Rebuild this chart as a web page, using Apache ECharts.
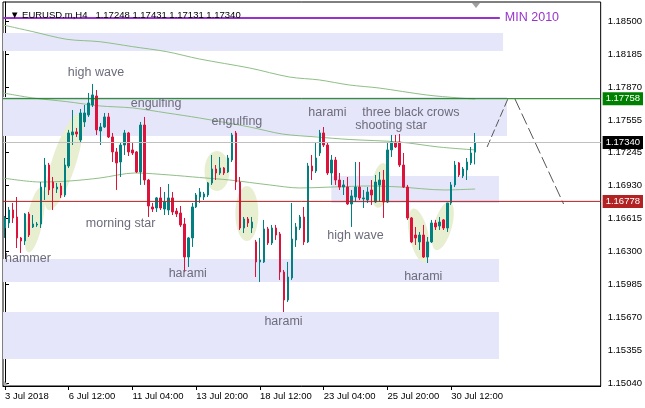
<!DOCTYPE html>
<html><head><meta charset="utf-8">
<script src="https://cdn.jsdelivr.net/npm/echarts@6/dist/echarts.min.js"></script>
<style>html,body{margin:0;padding:0;background:#fff}#c{width:645px;height:408px}</style>
</head><body><div id="c"></div>
<script>
const symbolName = 'EURUSD.m,H4';

const opens = [1.16524,1.16572,1.16696,1.16629,1.16429,1.16400,1.16658,1.16534,1.16553,1.16562,
1.16915,1.17125,1.16963,1.16896,1.16925,1.16839,1.17116,1.17412,1.17441,1.17364,
1.17536,1.17603,1.17698,1.17784,1.17450,1.17488,1.17584,1.17393,1.17250,1.17154,
1.17316,1.17431,1.17269,1.17250,1.17059,1.17507,1.16982,1.16725,1.16715,1.16811,
1.16705,1.16696,1.16811,1.16686,1.16667,1.16562,1.16247,1.16429,1.16725,1.16820,
1.16820,1.16839,1.16954,1.17087,1.17049,1.17097,1.17059,1.17173,1.17431,1.16963,
1.16524,1.16610,1.16524,1.16391,1.16200,1.16200,1.16515,1.16381,1.16524,1.16467,
1.16104,1.15837,1.16047,1.16410,1.16524,1.16629,1.16391,1.17116,1.17068,1.17240,
1.17431,1.17316,1.17049,1.17173,1.16982,1.16915,1.16915,1.16753,1.16820,1.16915,
1.16801,1.16791,1.16887,1.16772,1.16935,1.16982,1.16772,1.17269,1.17335,1.17345,
1.17125,1.16915,1.16620,1.16457,1.16391,1.16457,1.16247,1.16391,1.16572,1.16543,
1.16601,1.16524,1.16763,1.16935,1.17145,1.17021,1.17078,1.17145,1.17248];

const closes = [1.16620,1.16696,1.16620,1.16429,1.16400,1.16658,1.16457,1.16562,1.16562,1.16915,
1.17125,1.16887,1.16906,1.16915,1.16839,1.17125,1.17431,1.17441,1.17421,1.17622,
1.17622,1.17717,1.17794,1.17460,1.17488,1.17584,1.17393,1.17250,1.17145,1.17316,
1.17431,1.17250,1.17240,1.17059,1.17507,1.16982,1.16734,1.16705,1.16811,1.16715,
1.16772,1.16811,1.16677,1.16658,1.16553,1.16247,1.16429,1.16725,1.16839,1.16868,
1.16849,1.16954,1.17087,1.17049,1.17097,1.17049,1.17192,1.17412,1.16963,1.16524,
1.16610,1.16572,1.16581,1.16200,1.16219,1.16515,1.16381,1.16524,1.16457,1.16104,
1.15837,1.16056,1.16419,1.16534,1.16629,1.16391,1.17116,1.17068,1.17192,1.17431,
1.17316,1.17049,1.17173,1.16982,1.16915,1.16935,1.16753,1.16830,1.16915,1.16811,
1.16811,1.16868,1.16839,1.16963,1.16982,1.16772,1.17269,1.17345,1.17297,1.17125,
1.16915,1.16620,1.16391,1.16429,1.16457,1.16247,1.16391,1.16572,1.16534,1.16581,
1.16524,1.16763,1.16935,1.17125,1.17030,1.17087,1.17154,1.17240,1.17340];

const lows = [1.16429,1.16524,1.16572,1.16333,1.16286,1.16362,1.16438,1.16524,1.16534,1.16524,
1.16791,1.16839,1.16696,1.16858,1.16811,1.16820,1.17097,1.17316,1.17393,1.17345,
1.17488,1.17584,1.17679,1.17412,1.17316,1.17479,1.17383,1.17154,1.16887,1.17011,
1.17221,1.17211,1.17221,1.17049,1.16935,1.16935,1.16629,1.16677,1.16677,1.16696,
1.16648,1.16648,1.16648,1.16629,1.16534,1.16104,1.16152,1.16343,1.16715,1.16763,
1.16791,1.16820,1.16935,1.16982,1.17030,1.17030,1.17049,1.17154,1.16887,1.16505,
1.16476,1.16534,1.16476,1.16056,1.16009,1.16190,1.16362,1.16362,1.16410,1.16028,
1.15722,1.15818,1.16028,1.16343,1.16505,1.16362,1.16381,1.16982,1.17049,1.17211,
1.17297,1.17030,1.16935,1.16935,1.16887,1.16839,1.16744,1.16534,1.16772,1.16791,
1.16715,1.16763,1.16744,1.16763,1.16772,1.16620,1.16763,1.17202,1.17288,1.17106,
1.16906,1.16601,1.16381,1.16362,1.16314,1.16238,1.16190,1.16381,1.16505,1.16505,
1.16505,1.16486,1.16744,1.16915,1.17011,1.17001,1.16982,1.17125,1.17131];

const highs = [1.16639,1.16725,1.16763,1.16820,1.16438,1.16667,1.16677,1.16648,1.16581,1.16963,
1.17192,1.17145,1.17011,1.16954,1.16954,1.17192,1.17460,1.17650,1.17479,1.17660,
1.17698,1.17813,1.17899,1.17841,1.17526,1.17622,1.17622,1.17431,1.17288,1.17335,
1.17460,1.17441,1.17335,1.17259,1.17536,1.17584,1.16992,1.16763,1.16820,1.16915,
1.16868,1.16944,1.16868,1.16715,1.16734,1.16620,1.16438,1.16763,1.16858,1.16906,
1.16868,1.16963,1.17221,1.17125,1.17202,1.17106,1.17221,1.17431,1.17450,1.17011,
1.16629,1.16629,1.16629,1.16410,1.16429,1.16601,1.16534,1.16553,1.16553,1.16486,
1.16123,1.16200,1.16763,1.16572,1.16648,1.16725,1.17145,1.17221,1.17335,1.17460,
1.17488,1.17345,1.17221,1.17202,1.17049,1.16982,1.17011,1.16887,1.17154,1.17154,
1.16887,1.16915,1.16982,1.17030,1.17059,1.17078,1.17345,1.17412,1.17412,1.17421,
1.17240,1.16935,1.16629,1.16534,1.16486,1.16553,1.16438,1.16601,1.16601,1.16629,
1.16610,1.16763,1.16963,1.17164,1.17154,1.17106,1.17192,1.17297,1.17431];

const slotCount = 150;
const xTickIdx = [0,16,32,48,64,80,96,112];
const xTickLabels = ['3 Jul 2018','6 Jul 12:00','11 Jul 04:00','13 Jul 20:00','18 Jul 12:00','23 Jul 04:00','25 Jul 20:00','30 Jul 12:00'];
const yTickValues = [1.18500,1.18185,1.17870,1.17555,1.17245,1.16930,1.16615,1.16300,1.15985,1.15670,1.15355,1.15040];
const yMin = 1.15016, yMax = 1.18681;

const maSlow = [[-0.5,1.18462],[7,1.18398],[15.5,1.18325],[23.8,1.18302],[32,1.18255],[40.6,1.18207],[48.8,1.18137],[61.4,1.18051],[71.4,1.17965],[78.9,1.17937],[86.4,1.17889],[93.9,1.17860],[105.7,1.17794],[114,1.17765],[118,1.17755]];
const maMid = [[-0.5,1.17813],[7,1.17765],[15.5,1.17730],[23.8,1.17689],[32,1.17670],[40.6,1.17622],[48.8,1.17574],[61.4,1.17488],[69.6,1.17421],[78.1,1.17393],[86.4,1.17369],[98.9,1.17345],[108.9,1.17297],[118,1.17269]];
const maFast = [[-0.5,1.17001],[8.8,1.16963],[16.3,1.16973],[23.8,1.17001],[32.6,1.17049],[41.3,1.17030],[48.8,1.17006],[56.4,1.16982],[66.4,1.16935],[73.9,1.16906],[82.7,1.16916],[91.4,1.16925],[98.9,1.16916],[110.2,1.16887],[118,1.16896]];

const levelGreen = 1.17758, levelBid = 1.17340, levelRed = 1.16778;
const levelSpan = [-0.5, 149.5];
const min2010Line = [[-0.5,1.18529],[124.2,1.18529]];
const min2010Text = 'MIN 2010';

// zones: [fromIdx, priceA, toIdx, priceB]
const zones = [[-0.5,1.18385,125.0,1.18214],[-0.5,1.17775,126.0,1.17402],[81.9,1.17021,124.0,1.16763],[-0.5,1.16228,124.0,1.16009],[-0.5,1.15722,124.0,1.15274]];
// ellipses: [centerIdx, centerPrice, halfWidthIdx, halfHeightPrice, tiltDeg]
const ellipses = [[7.5,1.16601,2.0,0.00315,11],[14.8,1.17154,3.0,0.00482,18],[53.2,1.17068,3.13,0.00191,0],[60.7,1.16662,2.88,0.00262,0],[94.3,1.16930,2.25,0.00215,8],[103.9,1.16453,2.38,0.00262,-12],[109.9,1.16543,2.25,0.00239,16]];

const notes = ['high wave','engulfing','engulfing','harami','three black crows','shooting star','morning star','hammer','harami','high wave','harami','harami'];
const notePos = [[15.78,1.18004],[31.56,1.17708],[51.84,1.17536],[76.13,1.17622],[89.66,1.17622],[87.90,1.17498],[20.29,1.16562],[0.0,1.16228],[41.07,1.16085],[80.89,1.16448],[65.11,1.15627],[100.18,1.16057]];

const trendUp = [[121.0,1.17297],[126.2,1.17755]];
const trendDown = [[128.0,1.17755],[140.2,1.16753]];

const FONT = '"Liberation Sans", Arial, sans-serif';
const candleData = opens.map((o, i) => [o, closes[i], lows[i], highs[i]]);
const categories = Array.from({length: slotCount}, (_, i) => String(i));
const last = opens.length - 1;
const titleText = '\u25BC ' + symbolName + '   ' + [opens[last], highs[last], lows[last], closes[last]].map(v => v.toFixed(5)).join(' ');

const chart = echarts.init(document.getElementById('c'), null, {renderer: 'canvas'});

function levelSeries(value, lineColor, boxColor) {
  return {type: 'line', xAxisIndex: 1, z: 5, silent: true, showSymbol: false,
    data: [[levelSpan[0], value], [levelSpan[1], value]],
    lineStyle: {color: lineColor, width: 1},
    endLabel: {show: true, distance: 2, formatter: p => Number(p.value[1]).toFixed(5),
      color: '#fff', backgroundColor: boxColor, padding: [2, 3, 1, 3], fontFamily: FONT, fontSize: 9.5}};
}

const option = {
  animation: false,
  backgroundColor: '#fff',
  title: {text: titleText, left: 5, top: 5, textStyle: {fontFamily: FONT, fontSize: 9.5, fontWeight: 'normal', color: '#000'}},
  grid: {left: 3, right: 43, top: 2, bottom: 22, show: true, borderColor: '#000', borderWidth: 1, backgroundColor: '#fff', containLabel: false},
  xAxis: [
    {type: 'category', data: categories, boundaryGap: true, show: false},
    {type: 'value', min: -0.5, max: 149.5, position: 'bottom',
      axisLine: {show: true, lineStyle: {color: '#000', width: 1}},
      axisTick: {show: true, length: 4, lineStyle: {color: '#000'}, customValues: xTickIdx},
      axisLabel: {customValues: xTickIdx, formatter: v => { const k = xTickIdx.indexOf(Math.round(v)); return k >= 0 ? xTickLabels[k] : ''; },
        align: 'left', margin: 5, fontFamily: FONT, fontSize: 9.5, color: '#000'},
      splitLine: {show: false}}
  ],
  yAxis: {type: 'value', position: 'right', min: yMin, max: yMax, scale: true,
    axisLine: {show: true, lineStyle: {color: '#000', width: 1}},
    axisTick: {show: true, length: 4, lineStyle: {color: '#000'}, customValues: yTickValues},
    axisLabel: {customValues: yTickValues, formatter: v => Number(v).toFixed(5), margin: 7, fontFamily: FONT, fontSize: 9.5, color: '#000'},
    splitLine: {show: false}},
  series: [
    {type: 'custom', name: 'zones', xAxisIndex: 1, z: 1, silent: true, data: zones,
      renderItem: (params, api) => {
        const p0 = api.coord([api.value(0), api.value(1)]);
        const p1 = api.coord([api.value(2), api.value(3)]);
        return {type: 'rect', shape: {x: Math.min(p0[0], p1[0]), y: Math.min(p0[1], p1[1]), width: Math.abs(p1[0] - p0[0]), height: Math.abs(p1[1] - p0[1])}, style: {fill: '#e6e6fa'}};
      }},
    {type: 'custom', name: 'ellipses', xAxisIndex: 1, z: 2, silent: true, data: ellipses,
      renderItem: (params, api) => {
        const c = api.coord([api.value(0), api.value(1)]);
        const sx = api.size([api.value(2), 0])[0];
        const sy = api.size([0, api.value(3)])[1];
        return {type: 'ellipse', x: c[0], y: c[1], rotation: -api.value(4) * Math.PI / 180,
          shape: {cx: 0, cy: 0, rx: sx, ry: sy}, style: {fill: '#e8eed0'}};
      }},
    {type: 'line', name: 'MA slow', xAxisIndex: 1, z: 3, data: maSlow, showSymbol: false, smooth: 0.3, silent: true,
      lineStyle: {color: '#8fbf86', width: 1}},
    {type: 'line', name: 'MA mid', xAxisIndex: 1, z: 3, data: maMid, showSymbol: false, smooth: 0.3, silent: true,
      lineStyle: {color: '#8fbf86', width: 1}},
    {type: 'line', name: 'MA fast', xAxisIndex: 1, z: 3, data: maFast, showSymbol: false, smooth: 0.3, silent: true,
      lineStyle: {color: '#8fbf86', width: 1}},
    {type: 'line', name: 'MIN 2010', xAxisIndex: 1, z: 3, data: min2010Line, showSymbol: false, silent: true,
      lineStyle: {color: '#9932cc', width: 2},
      endLabel: {show: true, formatter: min2010Text, distance: 5, color: '#9932cc', fontFamily: FONT, fontSize: 12.5}},
    {type: 'line', name: 'trend up', xAxisIndex: 1, z: 3, data: trendUp, showSymbol: false, silent: true,
      lineStyle: {color: '#555', width: 1, type: [8, 3]}},
    {type: 'line', name: 'trend down', xAxisIndex: 1, z: 3, data: trendDown, showSymbol: false, silent: true,
      lineStyle: {color: '#555', width: 1, type: [12, 4]}},
    {type: 'candlestick', name: symbolName, xAxisIndex: 0, z: 4, data: candleData, barWidth: 2, silent: true,
      itemStyle: {color: '#008080', color0: '#dc143c', borderColor: '#008080', borderColor0: '#dc143c', borderWidth: 1}},
    levelSeries(levelGreen, '#0a7a0a', '#008000'),
    levelSeries(levelBid, '#c0c0c0', '#000'),
    levelSeries(levelRed, '#b22222', '#b22222'),
    {type: 'custom', name: 'notes', xAxisIndex: 1, z: 6, silent: true, data: notePos,
      renderItem: (params, api) => {
        const c = api.coord([api.value(0), api.value(1)]);
        return {type: 'text', x: c[0], y: c[1], style: {text: notes[params.dataIndex], fill: '#6c6c7c', fontFamily: FONT, fontSize: 12.5, align: 'left', verticalAlign: 'middle'}};
      }}
  ],
  graphic: [
    {type: 'polygon', shape: {points: [[472, 3], [480, 3], [476, 8]]}, style: {fill: '#a0a0a0'}, z: 100},
    {type: 'polygon', shape: {points: [[4, 381], [4, 386], [9, 386]]}, style: {fill: '#b0b0b0'}, z: 100}
  ]
};
chart.setOption(option);
</script></body></html>
